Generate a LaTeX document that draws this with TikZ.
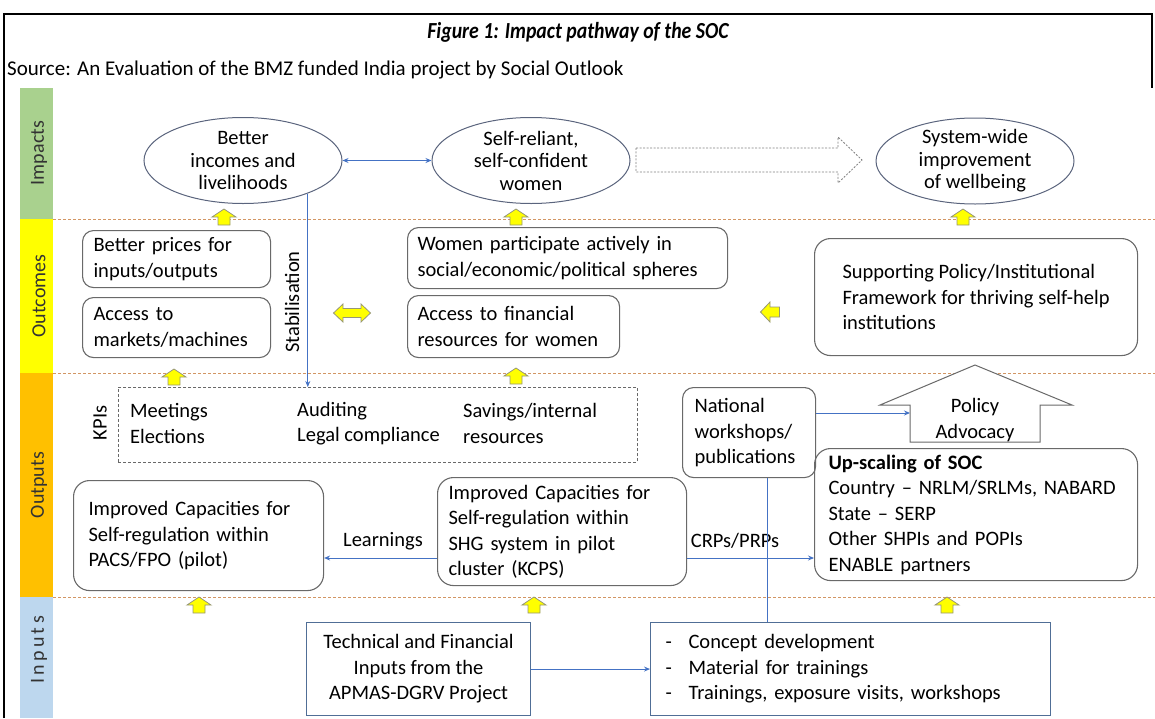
\documentclass[tikz,border=0pt]{standalone}
\usepackage{fontspec}
\setmainfont{Carlito}
\newfontfamily\titlefont[FakeStretch=0.86]{Carlito}
\usetikzlibrary{shapes.geometric,arrows.meta,calc}
\definecolor{bandgreen}{RGB}{169,209,142}
\definecolor{bandyellow}{RGB}{255,255,0}
\definecolor{bandorange}{RGB}{255,192,0}
\definecolor{bandblue}{RGB}{189,215,238}
\definecolor{sepcol}{RGB}{210,150,100}
\definecolor{boxcol}{RGB}{105,105,105}
\definecolor{conncol}{RGB}{68,114,196}
\definecolor{inboxcol}{RGB}{80,110,150}
\definecolor{ellcol}{RGB}{90,100,125}
\definecolor{yarrline}{RGB}{150,150,120}
\begin{document}
\begin{tikzpicture}[x=1pt,y=-1pt,
  body/.style={font=\fontsize{20.5}{25.5}\selectfont},
  rbox/.style={body, draw=boxcol, line width=1.1pt, rounded corners=11pt, align=left, inner sep=0pt, anchor=north west},
  ibox/.style={body, draw=inboxcol, line width=1.1pt, inner sep=0pt, anchor=north west},
  ell/.style={ellipse, draw=ellcol, line width=1pt, minimum width=198pt, minimum height=86pt, inner sep=-6pt, align=center, font=\fontsize{20.5}{22.5}\selectfont},
  bandlab/.style={rotate=90, font=\fontsize{20}{24}\selectfont, text=black!80},
  sepline/.style={draw=sepcol, line width=0.8pt, dash pattern=on 3pt off 2pt},
  conn/.style={draw=conncol, line width=0.9pt},
  tip/.style={-{Stealth[length=6pt,width=5pt]}},
  yarr/.style={fill=bandyellow, draw=yarrline, line width=0.8pt, line join=miter},
  uparr/.pic={\draw[yarr] (-6,8) -- (-6,0) -- (-12,0) -- (0,-8) -- (12,0) -- (6,0) -- (6,8) -- cycle;},
  dblarr/.pic={\draw[yarr] (-18.5,0) -- (-9,-9) -- (-9,-4.5) -- (9,-4.5) -- (9,-9) -- (18.5,0) -- (9,9) -- (9,4.5) -- (-9,4.5) -- (-9,9) -- cycle;},
  leftarr/.pic={\draw[yarr] (-9.5,0) -- (0,-10) -- (0,-5) -- (9.5,-5) -- (9.5,5) -- (0,5) -- (0,10) -- cycle;}
]
\useasboundingbox (0,0) rectangle (1155,718);
% frame
\draw[line width=2pt] (4,718) -- (4,14) -- (1152,14) -- (1152,88);
% header
\node[font={\fontsize{23}{27}\titlefont\bfseries\itshape}] (title) at (578,32) {Figure 1: Impact pathway of the SOC};
\node[font=\fontsize{21}{25}\selectfont, anchor=west, inner sep=0pt] (src) at (7,70) {Source: An Evaluation of the BMZ funded India project by Social Outlook};
% bands
\fill[bandgreen] (20,88) rectangle (53,219);
\fill[bandyellow] (20,219) rectangle (53,373);
\fill[bandorange] (20,373) rectangle (53,597);
\fill[bandblue] (20,597) rectangle (53,718);
\node[bandlab] (lImp) at (39,153) {Impacts};
\node[bandlab] (lOutc) at (39,296) {Outcomes};
\node[bandlab] (lOutp) at (39,485) {Outputs};
\node[bandlab] (lInp) at (39,650) {I\,n\,p\,u\,t\,s};
% separators
\draw[sepline] (53,219) -- (1155,219);
\draw[sepline] (53,373) -- (1155,373);
\draw[sepline] (53,597) -- (1155,597);
% impacts
\node[ell] (e1) at (243,160.5) {Better\\incomes and\\livelihoods};
\node[ell] (e2) at (531,160.5) {Self-reliant,\\self-confident\\women};
\node[ell] (e3) at (975,161) {System-wide\\improvement\\of wellbeing};
\draw[conn,{Stealth[length=6pt,width=5pt]}-{Stealth[length=6pt,width=5pt]}] (e1) -- (e2);
\draw[draw=gray, line width=0.8pt, dash pattern=on 2pt off 1.5pt, fill=white] (636,148) -- (838,148) -- (838,137) -- (862,160) -- (838,183) -- (838,172) -- (636,172) -- cycle;
% outcomes
\node[rbox, minimum width=188pt, minimum height=57pt, inner xsep=11pt, text width=166pt] (b1) at (82,230) {Better prices for\\inputs/outputs};
\node[rbox, minimum width=188pt, minimum height=60pt, inner xsep=11pt, text width=166pt] (b2) at (82,297) {Access to\\markets/machines};
\node[rbox, minimum width=320pt, minimum height=61pt, inner xsep=10pt, text width=300pt] (b3) at (407,227) {Women participate actively in\\social/economic/political spheres};
\node[rbox, minimum width=212pt, minimum height=62pt, inner xsep=10pt, text width=192pt] (b4) at (407,295) {Access to financial\\resources for women};
\node[rbox, minimum width=323pt, minimum height=117pt, rounded corners=16pt] (b5) at (814,238) {Supporting Policy/Institutional\\Framework for thriving self-help\\institutions};
% outputs
\node[draw=boxcol, line width=0.8pt, dash pattern=on 3pt off 2pt, minimum width=519pt, minimum height=75pt, anchor=north west, inner sep=0pt] (kpi) at (118,387) {};
\node[body, rotate=90] (kpis) at (100,423) {KPIs};
\node[body, anchor=west, align=left, inner sep=0pt] (k1) at (130,423.5) {Meetings\\Elections};
\node[body, anchor=west, align=left, inner sep=0pt] (k2) at (297,423.5) {Auditing\\Legal compliance};
\node[body, anchor=west, align=left, inner sep=0pt] (k3) at (463,423.5) {Savings/internal\\resources};
\draw[conn,tip] (e1.-27.6) -- (e1.-27.6 |- kpi.north);
\node[body, rotate=90] (stab) at (292,302) {Stabilisation};
\node[rbox, minimum width=133pt, minimum height=90pt, inner xsep=12pt, text width=109pt] (natl) at (682,387) {National\\workshops/\\publications};
\draw[draw=boxcol, line width=1pt, fill=white] (910,442) -- (910,405) -- (880,405) -- (975,365) -- (1072,405) -- (1040,405) -- (1040,442) -- cycle;
\node[body, align=center] (pol) at (975,420) {Policy\\Advocacy};
\coordinate (polL) at (910,413);
\draw[conn,tip] (natl.east |- polL) -- (polL);
\node[rbox, minimum width=323pt, minimum height=132pt, rounded corners=16pt, inner xsep=14pt, text width=295pt] (ups) at (814,448) {\textbf{Up-scaling of SOC}\\Country – NRLM/SRLMs, NABARD\\State – SERP\\Other SHPIs and POPIs\\ENABLE partners};
\node[rbox, minimum width=250pt, minimum height=110pt, rounded corners=16pt, inner xsep=15pt, text width=220pt] (pacs) at (73,480) {Improved Capacities for\\Self-regulation within\\PACS/FPO (pilot)};
\node[rbox, minimum width=249pt, minimum height=108pt, rounded corners=16pt, inner xsep=11pt, text width=227pt] (kcps) at (437,477) {Improved Capacities for\\Self-regulation within\\SHG system in pilot\\cluster (KCPS)};
\coordinate (yL) at (0,558);
\draw[conn,tip] (kcps.west |- yL) -- (pacs.east |- yL);
\node[body] (learn) at (383,541) {Learnings};
\draw[conn,tip] (kcps.east |- yL) -- (ups.west |- yL);
\node[body] (crps) at (735,541) {CRPs/PRPs};
% inputs
\node[ibox, minimum width=224pt, minimum height=93pt, align=center] (tech) at (306,622) {Technical and Financial\\Inputs from the\\APMAS-DGRV Project};
\node[ibox, minimum width=400pt, minimum height=93pt, text width=370pt, inner xsep=15pt, align=left] (inr) at (650,622) {\makebox[23pt][l]{-}Concept development\\\makebox[23pt][l]{-}Material for trainings\\\makebox[23pt][l]{-}Trainings, exposure visits, workshops};
\draw[conn,tip] (tech) -- (inr);
\coordinate (vx) at (767,0);
\draw[conn] (natl.south -| vx) -- (inr.north -| vx);
% yellow arrows
\pic at (224,217) {uparr};
\pic at (516,217) {uparr};
\pic at (963,217) {uparr};
\pic at (174,377) {uparr};
\pic at (516,376) {uparr};
\pic at (199,605) {uparr};
\pic at (534,605) {uparr};
\pic at (947,605) {uparr};
\pic at (352,313) {dblarr};
\pic at (770,312) {leftarr};
\end{tikzpicture}
\end{document}
